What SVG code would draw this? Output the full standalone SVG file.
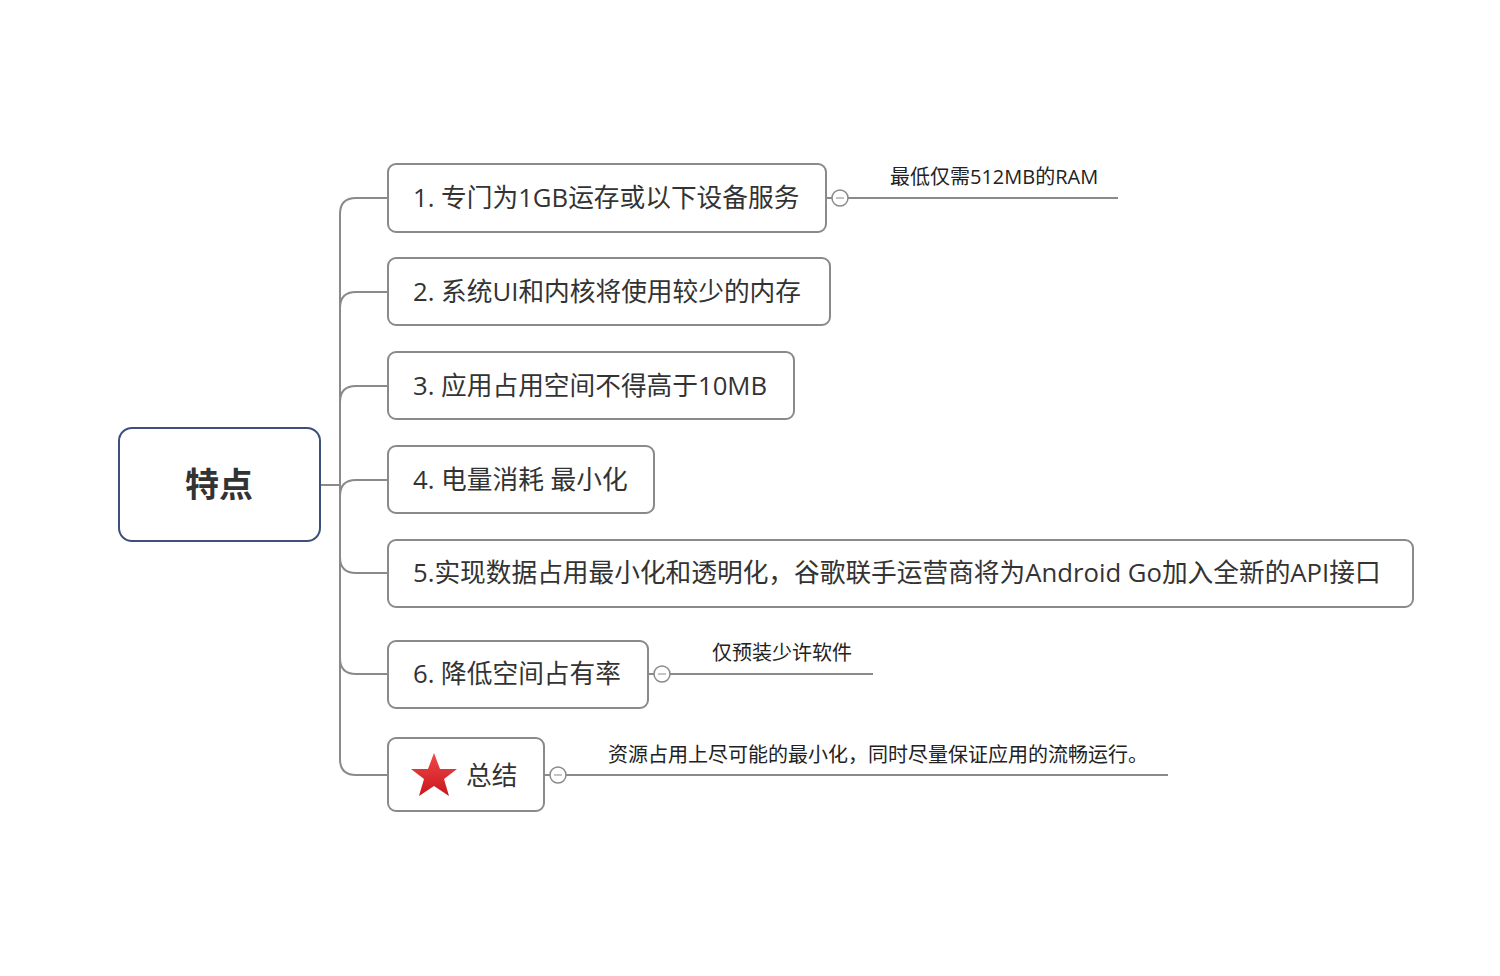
<svg xmlns="http://www.w3.org/2000/svg" width="1500" height="976" viewBox="0 0 1500 976">
<style>
.n{fill:#fff;stroke:#8a8a8a;stroke-width:2}
.t{font-family:"Open Sans","Noto Sans CJK SC",sans-serif;font-size:25.7px;fill:#333}
.s{font-family:"Open Sans","Noto Sans CJK SC",sans-serif;font-size:20px;fill:#222}
.c{fill:none;stroke:#8a8a8a;stroke-width:2}
.k{fill:#fff;stroke:#8a8a8a;stroke-width:1.5}
</style>
<defs><linearGradient id="g" x1="0" y1="0" x2="0" y2="1"><stop offset="0" stop-color="#f0494a"/><stop offset="1" stop-color="#c8161d"/></linearGradient></defs>
<rect width="1500" height="976" fill="#fff"/>
<g id="connectors">
<path class="c" d="M320 485H340"/>
<path class="c" d="M388 198H356Q340 198 340 214V759Q340 775 356 775H388"/>
<path class="c" d="M340 308Q340 292 356 292H388"/>
<path class="c" d="M340 402Q340 386 356 386H388"/>
<path class="c" d="M340 496Q340 480 356 480H388"/>
<path class="c" d="M340 557Q340 573 356 573H388"/>
<path class="c" d="M340 658Q340 674 356 674H388"/>
<path class="c" d="M826 198H832M848 198H1118"/>
<path class="c" d="M648 674H654M670 674H873"/>
<path class="c" d="M544 775H550M566 775H1168"/>
</g>
<g id="root"><rect x="119" y="428" width="201" height="113" rx="13" fill="#fff" stroke="#3d4f7c" stroke-width="2"/><text x="219" y="497" text-anchor="middle" font-family="'Noto Sans CJK SC',sans-serif" font-size="34" font-weight="bold" fill="#333">特点</text></g>
<g id="n1"><rect class="n" x="388" y="164" width="438" height="68" rx="8"/><text class="t" x="413" y="207">1. 专门为1GB运存或以下设备服务</text><circle class="k" cx="840" cy="198" r="8"/><path d="M836 198h8" stroke="#8a8a8a"/></g>
<g id="n1a"><text class="s" x="890" y="184">最低仅需512MB的RAM</text></g>
<g id="n2"><rect class="n" x="388" y="258" width="442" height="67" rx="8"/><text class="t" x="413" y="301">2. 系统UI和内核将使用较少的内存</text></g>
<g id="n3"><rect class="n" x="388" y="352" width="406" height="67" rx="8"/><text class="t" x="413" y="395">3. 应用占用空间不得高于10MB</text></g>
<g id="n4"><rect class="n" x="388" y="446" width="266" height="67" rx="8"/><text class="t" x="413" y="489">4. 电量消耗 最小化</text></g>
<g id="n5"><rect class="n" x="388" y="540" width="1025" height="67" rx="8"/><text class="t" x="413" y="582">5.实现数据占用最小化和透明化，谷歌联手运营商将为Android Go加入全新的API接口</text></g>
<g id="n6"><rect class="n" x="388" y="641" width="260" height="67" rx="8"/><text class="t" x="413" y="683">6. 降低空间占有率</text><circle class="k" cx="662" cy="674" r="8"/><path d="M658 674h8" stroke="#8a8a8a"/></g>
<g id="n6a"><text class="s" x="712" y="660">仅预装少许软件</text></g>
<g id="n7"><rect class="n" x="388" y="738" width="156" height="73" rx="8"/><polygon points="434,753 440,769 457,769 444,779 449,796 434,786 419,796 424,779 411,769 428,769" fill="url(#g)"/><text class="t" x="466" y="785">总结</text><circle class="k" cx="558" cy="775" r="8"/><path d="M554 775h8" stroke="#8a8a8a"/></g>
<g id="n7a"><text class="s" x="608" y="762">资源占用上尽可能的最小化，同时尽量保证应用的流畅运行。</text></g>
</svg>
